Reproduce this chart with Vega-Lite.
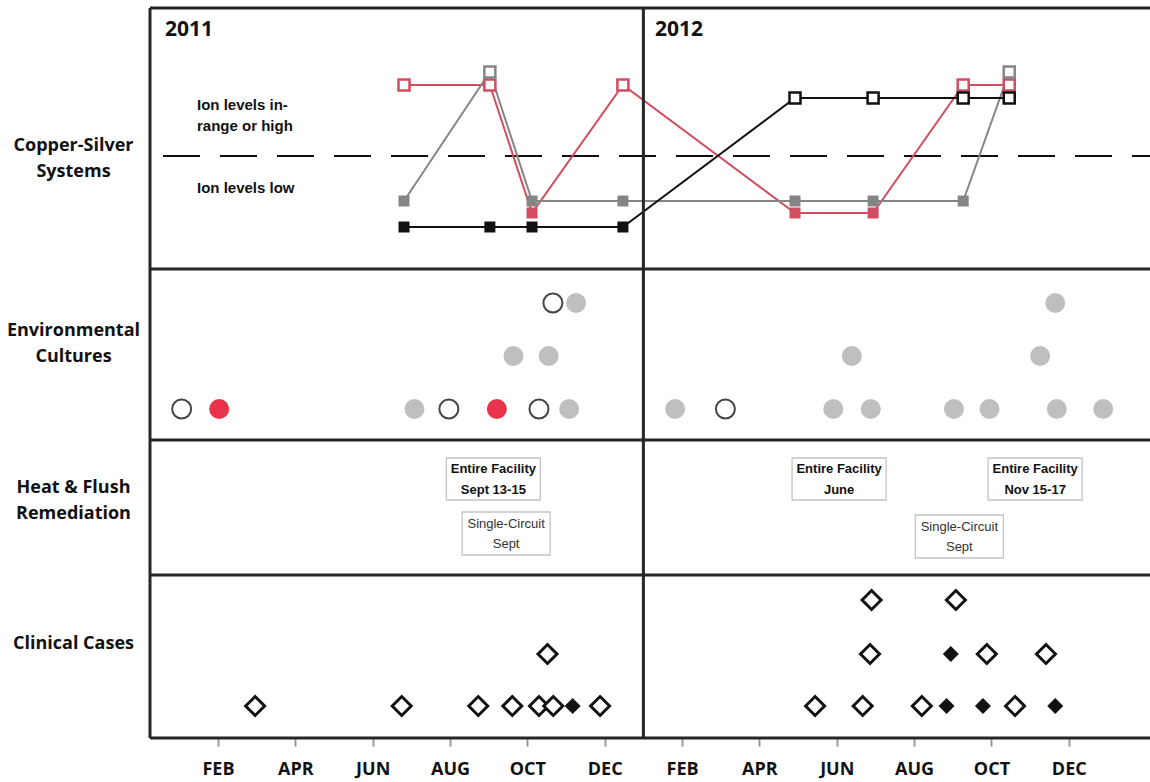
{
  "$schema": "https://vega.github.io/schema/vega-lite/v6.json",
  "width": 1000,
  "height": 730,
  "autosize": {"type": "none"},
  "padding": {"left": 150, "top": 8, "right": 0, "bottom": 44},
  "background": "white",
  "config": {
    "view": {"stroke": null},
    "axisX": {"title": null, "domain": false, "grid": false, "ticks": true, "tickSize": 8, "tickColor": "#999", "tickWidth": 2,
      "labelFont": "Open Sans", "labelFontWeight": "bold", "labelFontSize": 18, "labelColor": "#111", "labelPadding": 14,
      "labelFlush": false, "labelOverlap": false},
    "axisY": {"title": null, "domain": false, "grid": false, "ticks": false,
      "labelAlign": "center", "labelBaseline": "middle", "labelPadding": 77, "labelLineHeight": 26,
      "labelFont": "Open Sans", "labelFontWeight": "bold", "labelFontSize": 18, "labelColor": "#111", "labelOverlap": false, "labelFlush": false}
  },
  "datasets": {
    "threshold": [{"lane": 58.2}],
    "ion": [
      {"system": "System 1", "m": 5.81, "lane": 65.3, "status": "high"},
      {"system": "System 1", "m": 8.03, "lane": 65.3, "status": "high"},
      {"system": "System 1", "m": 9.12, "lane": 52.5, "status": "low"},
      {"system": "System 1", "m": 11.47, "lane": 65.3, "status": "high"},
      {"system": "System 1", "m": 15.92, "lane": 52.5, "status": "low"},
      {"system": "System 1", "m": 17.94, "lane": 52.5, "status": "low"},
      {"system": "System 1", "m": 20.27, "lane": 65.3, "status": "high"},
      {"system": "System 1", "m": 21.46, "lane": 65.3, "status": "high"},
      {"system": "System 2", "m": 5.81, "lane": 53.7, "status": "low"},
      {"system": "System 2", "m": 8.03, "lane": 66.6, "status": "high"},
      {"system": "System 2", "m": 9.12, "lane": 53.7, "status": "low"},
      {"system": "System 2", "m": 11.47, "lane": 53.7, "status": "low"},
      {"system": "System 2", "m": 15.92, "lane": 53.7, "status": "low"},
      {"system": "System 2", "m": 17.94, "lane": 53.7, "status": "low"},
      {"system": "System 2", "m": 20.27, "lane": 53.7, "status": "low"},
      {"system": "System 2", "m": 21.46, "lane": 66.6, "status": "high"},
      {"system": "System 3", "m": 5.81, "lane": 51.1, "status": "low"},
      {"system": "System 3", "m": 8.03, "lane": 51.1, "status": "low"},
      {"system": "System 3", "m": 9.12, "lane": 51.1, "status": "low"},
      {"system": "System 3", "m": 11.47, "lane": 51.1, "status": "low"},
      {"system": "System 3", "m": 15.92, "lane": 64.0, "status": "high"},
      {"system": "System 3", "m": 17.94, "lane": 64.0, "status": "high"},
      {"system": "System 3", "m": 20.27, "lane": 64.0, "status": "high"},
      {"system": "System 3", "m": 21.46, "lane": 64.0, "status": "high"}
    ],
    "cultures": [
      {"m": 0.06, "lane": 32.9, "result": "negative"},
      {"m": 1.03, "lane": 32.9, "result": "outbreak"},
      {"m": 6.08, "lane": 32.9, "result": "positive"},
      {"m": 6.97, "lane": 32.9, "result": "negative"},
      {"m": 8.21, "lane": 32.9, "result": "outbreak"},
      {"m": 9.30, "lane": 32.9, "result": "negative"},
      {"m": 10.08, "lane": 32.9, "result": "positive"},
      {"m": 8.64, "lane": 38.2, "result": "positive"},
      {"m": 9.55, "lane": 38.2, "result": "positive"},
      {"m": 9.66, "lane": 43.5, "result": "negative"},
      {"m": 10.26, "lane": 43.5, "result": "positive"},
      {"m": 12.82, "lane": 32.9, "result": "positive"},
      {"m": 14.12, "lane": 32.9, "result": "negative"},
      {"m": 16.91, "lane": 32.9, "result": "positive"},
      {"m": 17.88, "lane": 32.9, "result": "positive"},
      {"m": 20.03, "lane": 32.9, "result": "positive"},
      {"m": 20.95, "lane": 32.9, "result": "positive"},
      {"m": 22.69, "lane": 32.9, "result": "positive"},
      {"m": 23.89, "lane": 32.9, "result": "positive"},
      {"m": 17.39, "lane": 38.2, "result": "positive"},
      {"m": 22.26, "lane": 38.2, "result": "positive"},
      {"m": 22.65, "lane": 43.5, "result": "positive"}
    ],
    "remediation": [
      {"m": 8.12, "lane": 25.9, "scope": "entire", "label": "Entire Facility\nSept 13-15"},
      {"m": 8.45, "lane": 20.45, "scope": "single", "label": "Single-Circuit\nSept"},
      {"m": 17.06, "lane": 25.9, "scope": "entire", "label": "Entire Facility\nJune"},
      {"m": 22.13, "lane": 25.9, "scope": "entire", "label": "Entire Facility\nNov 15-17"},
      {"m": 20.17, "lane": 20.15, "scope": "single", "label": "Single-Circuit\nSept"}
    ],
    "cases": [
      {"m": 1.96, "lane": 3.2, "type": "possible"},
      {"m": 5.75, "lane": 3.2, "type": "possible"},
      {"m": 7.73, "lane": 3.2, "type": "possible"},
      {"m": 8.61, "lane": 3.2, "type": "possible"},
      {"m": 9.30, "lane": 3.2, "type": "possible"},
      {"m": 9.67, "lane": 3.2, "type": "possible"},
      {"m": 10.17, "lane": 3.2, "type": "definite"},
      {"m": 10.88, "lane": 3.2, "type": "possible"},
      {"m": 9.52, "lane": 8.4, "type": "possible"},
      {"m": 16.44, "lane": 3.2, "type": "possible"},
      {"m": 17.67, "lane": 3.2, "type": "possible"},
      {"m": 19.20, "lane": 3.2, "type": "possible"},
      {"m": 19.84, "lane": 3.2, "type": "definite"},
      {"m": 20.78, "lane": 3.2, "type": "definite"},
      {"m": 21.61, "lane": 3.2, "type": "possible"},
      {"m": 22.65, "lane": 3.2, "type": "definite"},
      {"m": 17.86, "lane": 8.4, "type": "possible"},
      {"m": 19.95, "lane": 8.4, "type": "definite"},
      {"m": 20.88, "lane": 8.4, "type": "possible"},
      {"m": 22.41, "lane": 8.4, "type": "possible"},
      {"m": 17.90, "lane": 13.8, "type": "possible"},
      {"m": 20.08, "lane": 13.8, "type": "possible"}
    ],
    "years": [
      {"m": -0.37, "lane": 70.8, "text": "2011"},
      {"m": 12.30, "lane": 70.8, "text": "2012"}
    ],
    "ionnotes": [
      {"m": 0.457, "lane": 63.3, "text": "Ion levels in-\nrange or high"},
      {"m": 0.457, "lane": 55.0, "text": "Ion levels low"}
    ],
    "hborders": [{"lane": 73}, {"lane": 46.9}, {"lane": 29.8}, {"lane": 16.3}, {"lane": 0}],
    "vborders": [{"m": -0.7585}, {"m": 12.0}]
  },
  "layer": [
    {
      "data": {"name": "threshold"},
      "mark": {"type": "rule", "color": "#111", "strokeWidth": 2, "strokeDash": [37, 20], "strokeDashOffset": 19},
      "encoding": {
        "y": {"field": "lane", "type": "quantitative", "scale": {"domain": [0, 73], "nice": false, "zero": false},
          "axis": {"values": [59.3, 40.8, 25.1, 9.5],
            "labelExpr": "datum.value > 50 ? ['Copper-Silver','Systems'] : datum.value > 30 ? ['Environmental','Cultures'] : datum.value > 15 ? ['Heat & Flush','Remediation'] : 'Clinical Cases'"}}
      }
    },
    {
      "data": {"name": "ion"},
      "mark": {"type": "line", "strokeWidth": 2},
      "encoding": {
        "x": {"field": "m", "type": "quantitative", "scale": {"domain": [-0.7585, 25.1], "nice": false, "zero": false},
          "axis": {"values": [1, 3, 5, 7, 9, 11, 13, 15, 17, 19, 21, 23],
            "labelExpr": "['JAN','FEB','MAR','APR','MAY','JUN','JUL','AUG','SEP','OCT','NOV','DEC'][datum.value % 12]"}},
        "y": {"field": "lane", "type": "quantitative", "scale": {"domain": [0, 73], "nice": false, "zero": false},
          "axis": {"values": [59.3, 40.8, 25.1, 9.5],
            "labelExpr": "datum.value > 50 ? ['Copper-Silver','Systems'] : datum.value > 30 ? ['Environmental','Cultures'] : datum.value > 15 ? ['Heat & Flush','Remediation'] : 'Clinical Cases'"}},
        "color": {"field": "system", "type": "nominal", "scale": {"domain": ["System 1", "System 2", "System 3"], "range": ["#d24d60", "#858585", "#111111"]}, "legend": null}
      }
    },
    {
      "data": {"name": "ion"},
      "transform": [{"filter": "datum.status == 'low'"}],
      "mark": {"type": "point", "shape": "square", "filled": true, "size": 121, "opacity": 1},
      "encoding": {
        "x": {"field": "m", "type": "quantitative", "scale": {"domain": [-0.7585, 25.1], "nice": false, "zero": false},
          "axis": {"values": [1, 3, 5, 7, 9, 11, 13, 15, 17, 19, 21, 23],
            "labelExpr": "['JAN','FEB','MAR','APR','MAY','JUN','JUL','AUG','SEP','OCT','NOV','DEC'][datum.value % 12]"}},
        "y": {"field": "lane", "type": "quantitative", "scale": {"domain": [0, 73], "nice": false, "zero": false},
          "axis": {"values": [59.3, 40.8, 25.1, 9.5],
            "labelExpr": "datum.value > 50 ? ['Copper-Silver','Systems'] : datum.value > 30 ? ['Environmental','Cultures'] : datum.value > 15 ? ['Heat & Flush','Remediation'] : 'Clinical Cases'"}},
        "color": {"field": "system", "type": "nominal", "scale": {"domain": ["System 1", "System 2", "System 3"], "range": ["#d24d60", "#858585", "#111111"]}, "legend": null}
      }
    },
    {
      "data": {"name": "ion"},
      "transform": [{"filter": "datum.status == 'high'"}],
      "mark": {"type": "point", "shape": "square", "filled": false, "fill": "white", "fillOpacity": 1, "strokeWidth": 2.5, "size": 121, "opacity": 1},
      "encoding": {
        "x": {"field": "m", "type": "quantitative", "scale": {"domain": [-0.7585, 25.1], "nice": false, "zero": false},
          "axis": {"values": [1, 3, 5, 7, 9, 11, 13, 15, 17, 19, 21, 23],
            "labelExpr": "['JAN','FEB','MAR','APR','MAY','JUN','JUL','AUG','SEP','OCT','NOV','DEC'][datum.value % 12]"}},
        "y": {"field": "lane", "type": "quantitative", "scale": {"domain": [0, 73], "nice": false, "zero": false},
          "axis": {"values": [59.3, 40.8, 25.1, 9.5],
            "labelExpr": "datum.value > 50 ? ['Copper-Silver','Systems'] : datum.value > 30 ? ['Environmental','Cultures'] : datum.value > 15 ? ['Heat & Flush','Remediation'] : 'Clinical Cases'"}},
        "color": {"field": "system", "type": "nominal", "scale": {"domain": ["System 1", "System 2", "System 3"], "range": ["#d24d60", "#858585", "#111111"]}, "legend": null}
      }
    },
    {
      "data": {"name": "cultures"},
      "transform": [{"filter": "datum.result == 'positive'"}],
      "mark": {"type": "point", "shape": "circle", "filled": true, "color": "#bfbfbf", "size": 400, "opacity": 1},
      "encoding": {
        "x": {"field": "m", "type": "quantitative", "scale": {"domain": [-0.7585, 25.1], "nice": false, "zero": false},
          "axis": {"values": [1, 3, 5, 7, 9, 11, 13, 15, 17, 19, 21, 23],
            "labelExpr": "['JAN','FEB','MAR','APR','MAY','JUN','JUL','AUG','SEP','OCT','NOV','DEC'][datum.value % 12]"}},
        "y": {"field": "lane", "type": "quantitative", "scale": {"domain": [0, 73], "nice": false, "zero": false},
          "axis": {"values": [59.3, 40.8, 25.1, 9.5],
            "labelExpr": "datum.value > 50 ? ['Copper-Silver','Systems'] : datum.value > 30 ? ['Environmental','Cultures'] : datum.value > 15 ? ['Heat & Flush','Remediation'] : 'Clinical Cases'"}}
      }
    },
    {
      "data": {"name": "cultures"},
      "transform": [{"filter": "datum.result == 'outbreak'"}],
      "mark": {"type": "point", "shape": "circle", "filled": true, "color": "#e8334a", "size": 400, "opacity": 1},
      "encoding": {
        "x": {"field": "m", "type": "quantitative", "scale": {"domain": [-0.7585, 25.1], "nice": false, "zero": false},
          "axis": {"values": [1, 3, 5, 7, 9, 11, 13, 15, 17, 19, 21, 23],
            "labelExpr": "['JAN','FEB','MAR','APR','MAY','JUN','JUL','AUG','SEP','OCT','NOV','DEC'][datum.value % 12]"}},
        "y": {"field": "lane", "type": "quantitative", "scale": {"domain": [0, 73], "nice": false, "zero": false},
          "axis": {"values": [59.3, 40.8, 25.1, 9.5],
            "labelExpr": "datum.value > 50 ? ['Copper-Silver','Systems'] : datum.value > 30 ? ['Environmental','Cultures'] : datum.value > 15 ? ['Heat & Flush','Remediation'] : 'Clinical Cases'"}}
      }
    },
    {
      "data": {"name": "cultures"},
      "transform": [{"filter": "datum.result == 'negative'"}],
      "mark": {"type": "point", "shape": "circle", "filled": false, "fill": "white", "stroke": "#444", "strokeWidth": 2, "size": 361, "opacity": 1},
      "encoding": {
        "x": {"field": "m", "type": "quantitative", "scale": {"domain": [-0.7585, 25.1], "nice": false, "zero": false},
          "axis": {"values": [1, 3, 5, 7, 9, 11, 13, 15, 17, 19, 21, 23],
            "labelExpr": "['JAN','FEB','MAR','APR','MAY','JUN','JUL','AUG','SEP','OCT','NOV','DEC'][datum.value % 12]"}},
        "y": {"field": "lane", "type": "quantitative", "scale": {"domain": [0, 73], "nice": false, "zero": false},
          "axis": {"values": [59.3, 40.8, 25.1, 9.5],
            "labelExpr": "datum.value > 50 ? ['Copper-Silver','Systems'] : datum.value > 30 ? ['Environmental','Cultures'] : datum.value > 15 ? ['Heat & Flush','Remediation'] : 'Clinical Cases'"}}
      }
    },
    {
      "data": {"name": "remediation"},
      "transform": [{"filter": "datum.scope == 'entire'"}],
      "mark": {"type": "point", "shape": "M-1,-0.447H1V0.447H-1Z", "size": 8836, "filled": false, "fill": "white", "stroke": "#c4c4c4", "strokeWidth": 1.3, "opacity": 1},
      "encoding": {
        "x": {"field": "m", "type": "quantitative", "scale": {"domain": [-0.7585, 25.1], "nice": false, "zero": false},
          "axis": {"values": [1, 3, 5, 7, 9, 11, 13, 15, 17, 19, 21, 23],
            "labelExpr": "['JAN','FEB','MAR','APR','MAY','JUN','JUL','AUG','SEP','OCT','NOV','DEC'][datum.value % 12]"}},
        "y": {"field": "lane", "type": "quantitative", "scale": {"domain": [0, 73], "nice": false, "zero": false},
          "axis": {"values": [59.3, 40.8, 25.1, 9.5],
            "labelExpr": "datum.value > 50 ? ['Copper-Silver','Systems'] : datum.value > 30 ? ['Environmental','Cultures'] : datum.value > 15 ? ['Heat & Flush','Remediation'] : 'Clinical Cases'"}}
      }
    },
    {
      "data": {"name": "remediation"},
      "transform": [{"filter": "datum.scope == 'single'"}],
      "mark": {"type": "point", "shape": "M-1,-0.489H1V0.489H-1Z", "size": 7744, "filled": false, "fill": "white", "stroke": "#c4c4c4", "strokeWidth": 1.3, "opacity": 1},
      "encoding": {
        "x": {"field": "m", "type": "quantitative", "scale": {"domain": [-0.7585, 25.1], "nice": false, "zero": false},
          "axis": {"values": [1, 3, 5, 7, 9, 11, 13, 15, 17, 19, 21, 23],
            "labelExpr": "['JAN','FEB','MAR','APR','MAY','JUN','JUL','AUG','SEP','OCT','NOV','DEC'][datum.value % 12]"}},
        "y": {"field": "lane", "type": "quantitative", "scale": {"domain": [0, 73], "nice": false, "zero": false},
          "axis": {"values": [59.3, 40.8, 25.1, 9.5],
            "labelExpr": "datum.value > 50 ? ['Copper-Silver','Systems'] : datum.value > 30 ? ['Environmental','Cultures'] : datum.value > 15 ? ['Heat & Flush','Remediation'] : 'Clinical Cases'"}}
      }
    },
    {
      "data": {"name": "remediation"},
      "transform": [{"filter": "datum.scope == 'entire'"}],
      "mark": {"type": "text", "font": "Liberation Sans", "fontWeight": "bold", "fontSize": 13, "lineBreak": "\n", "lineHeight": 21, "dy": -10, "align": "center", "baseline": "middle", "color": "#111"},
      "encoding": {
        "x": {"field": "m", "type": "quantitative", "scale": {"domain": [-0.7585, 25.1], "nice": false, "zero": false},
          "axis": {"values": [1, 3, 5, 7, 9, 11, 13, 15, 17, 19, 21, 23],
            "labelExpr": "['JAN','FEB','MAR','APR','MAY','JUN','JUL','AUG','SEP','OCT','NOV','DEC'][datum.value % 12]"}},
        "y": {"field": "lane", "type": "quantitative", "scale": {"domain": [0, 73], "nice": false, "zero": false},
          "axis": {"values": [59.3, 40.8, 25.1, 9.5],
            "labelExpr": "datum.value > 50 ? ['Copper-Silver','Systems'] : datum.value > 30 ? ['Environmental','Cultures'] : datum.value > 15 ? ['Heat & Flush','Remediation'] : 'Clinical Cases'"}},
        "text": {"field": "label"}
      }
    },
    {
      "data": {"name": "remediation"},
      "transform": [{"filter": "datum.scope == 'single'"}],
      "mark": {"type": "text", "font": "Liberation Sans", "fontSize": 13, "lineBreak": "\n", "lineHeight": 20, "dy": -10, "align": "center", "baseline": "middle", "color": "#333"},
      "encoding": {
        "x": {"field": "m", "type": "quantitative", "scale": {"domain": [-0.7585, 25.1], "nice": false, "zero": false},
          "axis": {"values": [1, 3, 5, 7, 9, 11, 13, 15, 17, 19, 21, 23],
            "labelExpr": "['JAN','FEB','MAR','APR','MAY','JUN','JUL','AUG','SEP','OCT','NOV','DEC'][datum.value % 12]"}},
        "y": {"field": "lane", "type": "quantitative", "scale": {"domain": [0, 73], "nice": false, "zero": false},
          "axis": {"values": [59.3, 40.8, 25.1, 9.5],
            "labelExpr": "datum.value > 50 ? ['Copper-Silver','Systems'] : datum.value > 30 ? ['Environmental','Cultures'] : datum.value > 15 ? ['Heat & Flush','Remediation'] : 'Clinical Cases'"}},
        "text": {"field": "label"}
      }
    },
    {
      "data": {"name": "cases"},
      "transform": [{"filter": "datum.type == 'possible'"}],
      "mark": {"type": "point", "shape": "diamond", "filled": false, "fill": "white", "stroke": "#111", "strokeWidth": 3, "size": 361, "opacity": 1},
      "encoding": {
        "x": {"field": "m", "type": "quantitative", "scale": {"domain": [-0.7585, 25.1], "nice": false, "zero": false},
          "axis": {"values": [1, 3, 5, 7, 9, 11, 13, 15, 17, 19, 21, 23],
            "labelExpr": "['JAN','FEB','MAR','APR','MAY','JUN','JUL','AUG','SEP','OCT','NOV','DEC'][datum.value % 12]"}},
        "y": {"field": "lane", "type": "quantitative", "scale": {"domain": [0, 73], "nice": false, "zero": false},
          "axis": {"values": [59.3, 40.8, 25.1, 9.5],
            "labelExpr": "datum.value > 50 ? ['Copper-Silver','Systems'] : datum.value > 30 ? ['Environmental','Cultures'] : datum.value > 15 ? ['Heat & Flush','Remediation'] : 'Clinical Cases'"}}
      }
    },
    {
      "data": {"name": "cases"},
      "transform": [{"filter": "datum.type == 'definite'"}],
      "mark": {"type": "point", "shape": "diamond", "filled": true, "color": "#111", "size": 256, "opacity": 1},
      "encoding": {
        "x": {"field": "m", "type": "quantitative", "scale": {"domain": [-0.7585, 25.1], "nice": false, "zero": false},
          "axis": {"values": [1, 3, 5, 7, 9, 11, 13, 15, 17, 19, 21, 23],
            "labelExpr": "['JAN','FEB','MAR','APR','MAY','JUN','JUL','AUG','SEP','OCT','NOV','DEC'][datum.value % 12]"}},
        "y": {"field": "lane", "type": "quantitative", "scale": {"domain": [0, 73], "nice": false, "zero": false},
          "axis": {"values": [59.3, 40.8, 25.1, 9.5],
            "labelExpr": "datum.value > 50 ? ['Copper-Silver','Systems'] : datum.value > 30 ? ['Environmental','Cultures'] : datum.value > 15 ? ['Heat & Flush','Remediation'] : 'Clinical Cases'"}}
      }
    },
    {
      "data": {"name": "years"},
      "mark": {"type": "text", "font": "Open Sans", "fontWeight": "bold", "fontSize": 21, "align": "left", "baseline": "middle", "color": "#111"},
      "encoding": {
        "x": {"field": "m", "type": "quantitative", "scale": {"domain": [-0.7585, 25.1], "nice": false, "zero": false},
          "axis": {"values": [1, 3, 5, 7, 9, 11, 13, 15, 17, 19, 21, 23],
            "labelExpr": "['JAN','FEB','MAR','APR','MAY','JUN','JUL','AUG','SEP','OCT','NOV','DEC'][datum.value % 12]"}},
        "y": {"field": "lane", "type": "quantitative", "scale": {"domain": [0, 73], "nice": false, "zero": false},
          "axis": {"values": [59.3, 40.8, 25.1, 9.5],
            "labelExpr": "datum.value > 50 ? ['Copper-Silver','Systems'] : datum.value > 30 ? ['Environmental','Cultures'] : datum.value > 15 ? ['Heat & Flush','Remediation'] : 'Clinical Cases'"}},
        "text": {"field": "text"}
      }
    },
    {
      "data": {"name": "ionnotes"},
      "mark": {"type": "text", "font": "Liberation Sans", "fontWeight": "bold", "fontSize": 15, "lineBreak": "\n", "lineHeight": 21, "align": "left", "baseline": "middle", "color": "#111"},
      "encoding": {
        "x": {"field": "m", "type": "quantitative", "scale": {"domain": [-0.7585, 25.1], "nice": false, "zero": false},
          "axis": {"values": [1, 3, 5, 7, 9, 11, 13, 15, 17, 19, 21, 23],
            "labelExpr": "['JAN','FEB','MAR','APR','MAY','JUN','JUL','AUG','SEP','OCT','NOV','DEC'][datum.value % 12]"}},
        "y": {"field": "lane", "type": "quantitative", "scale": {"domain": [0, 73], "nice": false, "zero": false},
          "axis": {"values": [59.3, 40.8, 25.1, 9.5],
            "labelExpr": "datum.value > 50 ? ['Copper-Silver','Systems'] : datum.value > 30 ? ['Environmental','Cultures'] : datum.value > 15 ? ['Heat & Flush','Remediation'] : 'Clinical Cases'"}},
        "text": {"field": "text"}
      }
    },
    {
      "data": {"name": "hborders"},
      "mark": {"type": "rule", "color": "#262626", "strokeWidth": 3},
      "encoding": {
        "y": {"field": "lane", "type": "quantitative", "scale": {"domain": [0, 73], "nice": false, "zero": false},
          "axis": {"values": [59.3, 40.8, 25.1, 9.5],
            "labelExpr": "datum.value > 50 ? ['Copper-Silver','Systems'] : datum.value > 30 ? ['Environmental','Cultures'] : datum.value > 15 ? ['Heat & Flush','Remediation'] : 'Clinical Cases'"}}
      }
    },
    {
      "data": {"name": "vborders"},
      "mark": {"type": "rule", "color": "#262626", "strokeWidth": 3},
      "encoding": {
        "x": {"field": "m", "type": "quantitative", "scale": {"domain": [-0.7585, 25.1], "nice": false, "zero": false},
          "axis": {"values": [1, 3, 5, 7, 9, 11, 13, 15, 17, 19, 21, 23],
            "labelExpr": "['JAN','FEB','MAR','APR','MAY','JUN','JUL','AUG','SEP','OCT','NOV','DEC'][datum.value % 12]"}}
      }
    }
  ]
}
